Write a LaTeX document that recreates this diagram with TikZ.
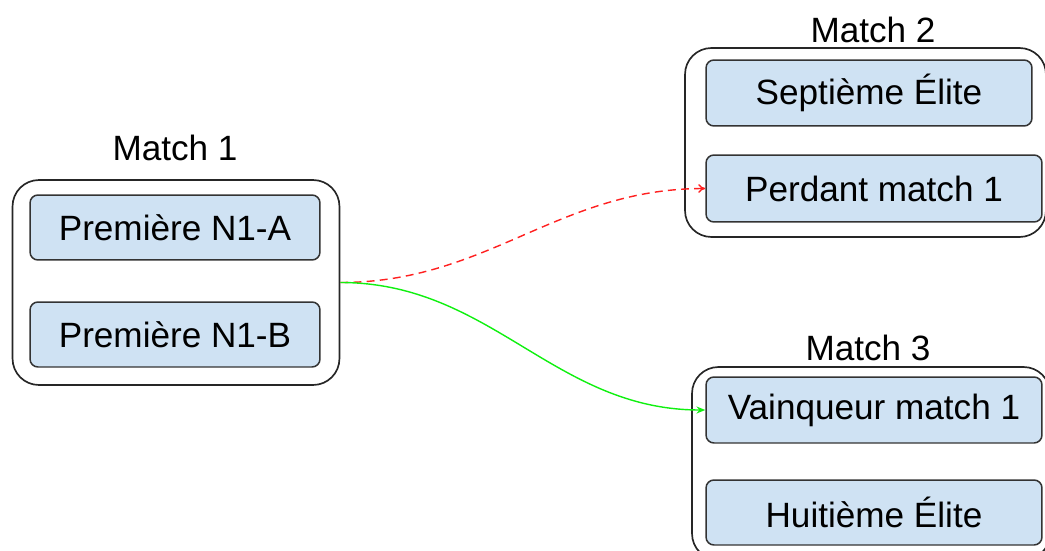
\documentclass[tikz,border=0pt]{standalone}
\usepackage{fontspec}
\setmainfont{Liberation Sans}
\usepackage{xcolor}
\usetikzlibrary{arrows.meta,positioning}
\definecolor{cellblue}{HTML}{CFE2F3}
\definecolor{linkred}{HTML}{FF2020}
\definecolor{linkgreen}{HTML}{10F010}

\begin{document}
\begin{tikzpicture}[x=0.02cm,y=-0.02cm,
    team/.style={rectangle,draw=black!80,fill=cellblue,rounded corners=4.5pt,line width=0.85pt,inner sep=0pt,font=\fontsize{20}{24}\selectfont},
    group/.style={rectangle,draw=black!85,rounded corners=15pt,line width=0.95pt,inner sep=0pt},
    title/.style={font=\fontsize{20}{24}\selectfont}]
    \useasboundingbox (0,0) rectangle (1045,551);

    % Match 1
    \node[group,minimum width=6.54cm,minimum height=4.1cm] (m1) at (176,282.5) {};
    \node[title] (t1) at (175,148) {Match 1};
    \node[team,minimum width=5.8cm,minimum height=1.3cm] (n1a) at (175,227.5) {Première N1-A};
    \node[team,minimum width=5.8cm,minimum height=1.3cm] (n1b) at (175,334.5) {Première N1-B};

    % Match 2
    \node[group,minimum width=7.22cm,minimum height=3.78cm] (m2) at (865.5,142.5) {};
    \node[title] (t2) at (873,30) {Match 2};
    \node[team,minimum width=6.52cm,minimum height=1.32cm] (e7) at (869,93) {Septième Élite};
    \node[team,minimum width=6.72cm,minimum height=1.34cm] (p1) at (874,188.5) {Perdant match 1};

    % Match 3
    \node[group,minimum width=7.16cm,minimum height=3.86cm] (m3) at (871,463.5) {};
    \node[title] (t3) at (868,348) {Match 3};
    \node[team,minimum width=6.72cm,minimum height=1.32cm] (v1) at (874,410) {Vainqueur match 1};
    \node[team,minimum width=6.72cm,minimum height=1.3cm] (e8) at (874,512.5) {Huitième Élite};

    % Links
    \draw[linkred,line width=0.8pt,dash pattern=on 4.5pt off 3pt,-{To[length=4pt,width=5pt]}] (m1.east) to[out=0,in=180] (p1.west);
    \draw[linkgreen,line width=0.8pt,-{Stealth[length=5pt,width=4pt]}] (m1.east) to[out=0,in=180] (v1.west);
\end{tikzpicture}
\end{document}
